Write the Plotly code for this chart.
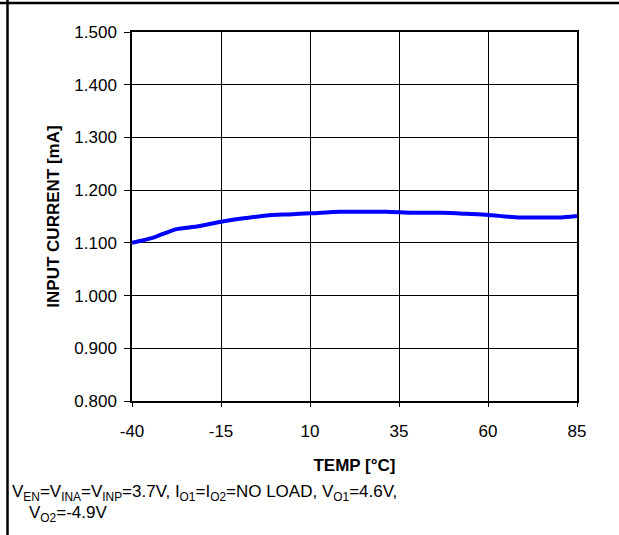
import plotly.graph_objects as go

temp_c = [-40, -34, -27.5, -21.8, -15, -8, -2.2, 4, 10, 18.4, 25, 31.5, 39, 47.4, 54, 60, 65, 69, 75, 80, 85]
input_current_ma = [1.100, 1.110, 1.126, 1.131, 1.140, 1.147, 1.152, 1.154, 1.156, 1.159, 1.159, 1.159, 1.157, 1.157, 1.155, 1.153, 1.150, 1.148, 1.148, 1.148, 1.151]

x_ticks = [-40, -15, 10, 35, 60, 85]
y_ticks = [0.8, 0.9, 1.0, 1.1, 1.2, 1.3, 1.4, 1.5]
y_tick_labels = ["0.800", "0.900", "1.000", "1.100", "1.200", "1.300", "1.400", "1.500"]

FONT = "Liberation Sans, Arial, Helvetica, sans-serif"

fig = go.Figure()
fig.add_trace(go.Scatter(
    x=temp_c, y=input_current_ma, mode="lines",
    line=dict(color="#0000FF", width=4, shape="spline", smoothing=0.6),
    showlegend=False, hoverinfo="skip",
))

L, R, T, B = 132, 42, 32, 134
W, H = 619, 535
pw, ph = W - L - R, H - T - B

fig.update_layout(
    width=W, height=H,
    margin=dict(l=L, r=R, t=T, b=B, pad=0),
    paper_bgcolor="white", plot_bgcolor="white",
    font=dict(family=FONT, color="black", size=17),
    xaxis=dict(
        range=[-40, 85], tickvals=x_ticks, ticktext=[str(v) for v in x_ticks],
        showgrid=True, gridcolor="black", gridwidth=1.3,
        showline=True, linecolor="black", linewidth=1.5, mirror=True,
        ticks="outside", ticklen=4, tickcolor="black", tickwidth=1,
        tickfont=dict(size=17, family=FONT), zeroline=False, ticklabelstandoff=10,
        title=dict(text="<b>TEMP [°C]</b>", font=dict(size=17, family=FONT), standoff=19),
    ),
    yaxis=dict(
        range=[0.8, 1.5], tickvals=y_ticks, ticktext=y_tick_labels,
        showgrid=True, gridcolor="black", gridwidth=1.3,
        showline=True, linecolor="black", linewidth=1.5, mirror=True,
        ticks="outside", ticklen=6, tickcolor="black", tickwidth=1,
        tickfont=dict(size=17, family=FONT), zeroline=False, ticklabelstandoff=4,
        title=dict(text="<b>INPUT CURRENT [mA]</b>", font=dict(size=17, family=FONT), standoff=10),
    ),
)

# outer frame lines (top and left)
fig.add_shape(type="line", xref="paper", yref="paper",
              x0=(0 - L) / pw, x1=(W - L) / pw,
              y0=1 + (T - 3) / ph, y1=1 + (T - 3) / ph,
              line=dict(color="black", width=2.5))
fig.add_shape(type="line", xref="paper", yref="paper",
              x0=(7.5 - L) / pw, x1=(7.5 - L) / pw,
              y0=1 + T / ph, y1=-(B) / ph,
              line=dict(color="black", width=2.5))

fig.add_annotation(
    xref="paper", yref="paper", x=(10 - L) / pw, y=-(493 - T - ph) / ph,
    xanchor="left", yanchor="middle", showarrow=False, align="left",
    text="V<sub>EN</sub>=V<sub>INA</sub>=V<sub>INP</sub>=3.7V, I<sub>O1</sub>=I<sub>O2</sub>=NO LOAD, V<sub>O1</sub>=4.6V,",
    font=dict(size=17, family=FONT),
)
fig.add_annotation(
    xref="paper", yref="paper", x=(27 - L) / pw, y=-(514 - T - ph) / ph,
    xanchor="left", yanchor="middle", showarrow=False, align="left",
    text="V<sub>O2</sub>=-4.9V",
    font=dict(size=17, family=FONT),
)

fig.write_html("out.html", config={"displayModeBar": False},
               post_script="document.body.style.margin='0';")
